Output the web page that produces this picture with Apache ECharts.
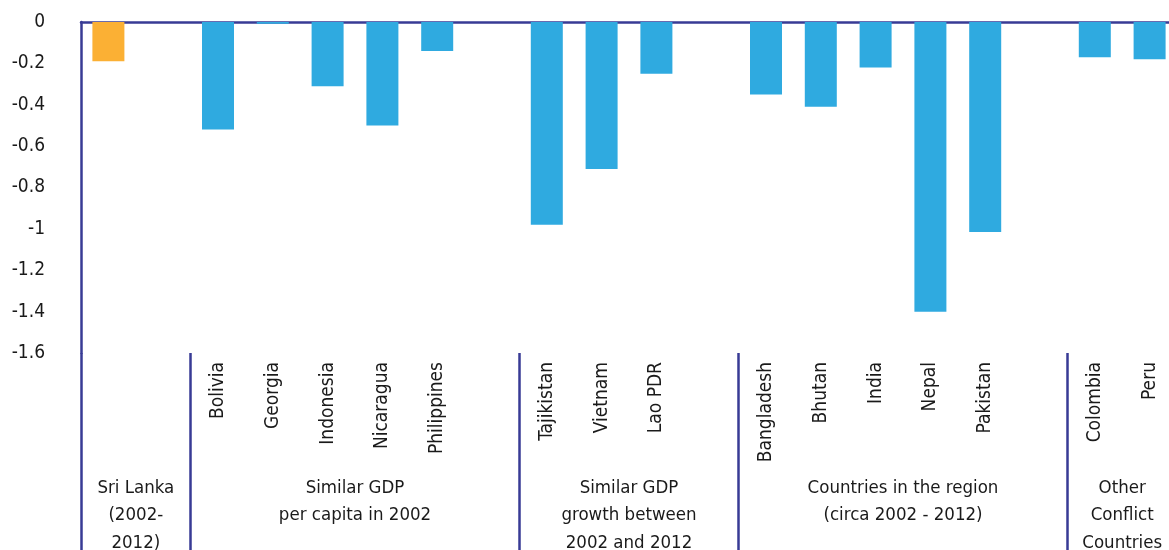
<!DOCTYPE html>
<html>
<head>
<meta charset="utf-8">
<script src="https://cdn.jsdelivr.net/npm/echarts@6/dist/echarts.min.js"></script>
<style>
html,body{margin:0;padding:0;background:#fff;}
#c{width:1169px;height:550px;}
</style>
</head>
<body>
<div id="c"></div>
<script>
// Slots (blank strings are spacer slots between groups)
var categories = ['Sri Lanka', '', 'Bolivia', 'Georgia', 'Indonesia', 'Nicaragua', 'Philippines', '',
  'Tajikistan', 'Vietnam', 'Lao PDR', '', 'Bangladesh', 'Bhutan', 'India', 'Nepal', 'Pakistan', '',
  'Colombia', 'Peru'];
var values = [-0.19, null, -0.52, -0.008, -0.31, -0.50, -0.14, null,
  -0.98, -0.71, -0.25, null, -0.35, -0.41, -0.22, -1.40, -1.015, null,
  -0.17, -0.18];
var highlightCategory = 'Sri Lanka';
var groupNames = ['Sri Lanka\n(2002-\n2012)', 'Similar GDP\nper capita in 2002',
  'Similar GDP\ngrowth between\n2002 and 2012', 'Countries in the region\n(circa 2002 - 2012)',
  'Other\nConflict\nCountries'];
var groupStarts = [0, 2, 8, 12, 18];
var groupEnds = [2, 8, 12, 18, 20];
var yTicks = [0, -0.2, -0.4, -0.6, -0.8, -1, -1.2, -1.4, -1.6];

var FONT = '"Liberation Sans Narrow", "DejaVu Sans Condensed", "Roboto", sans-serif';
var NAVY = '#383b95';
var BLUE = '#2faae0';
var ORANGE = '#fbb034';
var TEXT = '#1a1a1a';

var groupCenters = groupStarts.map(function (s, i) { return (s + groupEnds[i]) / 2; });
var groupCenterMap = {};
groupCenters.forEach(function (c, i) { groupCenterMap[c] = groupNames[i]; });

var chart = echarts.init(document.getElementById('c'), null, { renderer: 'canvas' });
chart.setOption({
  animation: false,
  backgroundColor: '#fff',
  grid: { left: 81, right: -8, top: 22, bottom: 197, outerBoundsMode: 'none', containLabel: false },
  xAxis: [
    {
      type: 'category', data: categories, position: 'bottom',
      axisLine: { show: true, onZero: true, lineStyle: { color: NAVY, width: 2.5 } },
      axisTick: { show: false }, axisLabel: { show: false }, splitLine: { show: false }
    },
    {
      type: 'category', data: categories, position: 'bottom',
      axisLine: { show: false, onZero: false }, axisTick: { show: false },
      axisLabel: {
        show: true, interval: 0, rotate: 90, margin: 9,
        fontFamily: FONT, fontSize: 19, color: TEXT,
        formatter: function (v) { return v === highlightCategory ? '' : v; }
      },
      splitLine: { show: false }
    },
    {
      type: 'value', min: 0, max: 20, position: 'bottom',
      axisLine: { show: false, onZero: false },
      axisTick: {
        show: true, inside: false, length: 200, customValues: groupStarts,
        lineStyle: { color: NAVY, width: 2.5 }
      },
      axisLabel: {
        show: true, customValues: groupCenters, margin: 121,
        fontFamily: FONT, fontSize: 18.5, lineHeight: 27.5, color: TEXT, align: 'center',
        formatter: function (v) { return groupCenterMap[v] || ''; }
      },
      splitLine: { show: false }
    }
  ],
  yAxis: {
    type: 'value', min: -1.6, max: 0, interval: 0.2,
    axisLine: { show: true, lineStyle: { color: NAVY, width: 2.5 } },
    axisTick: { show: false },
    splitLine: { show: false },
    axisLabel: {
      margin: 36, fontFamily: FONT, fontSize: 19, color: TEXT,
      formatter: function (v) {
        var r = Math.round(v * 10) / 10;
        return String(r);
      }
    }
  },
  series: [{
    type: 'bar', xAxisIndex: 0, yAxisIndex: 0, barWidth: 32,
    data: values.map(function (v, i) {
      return { value: v, itemStyle: { color: categories[i] === highlightCategory ? ORANGE : BLUE } };
    }),
    z: 1
  }]
});
</script>
</body>
</html>
